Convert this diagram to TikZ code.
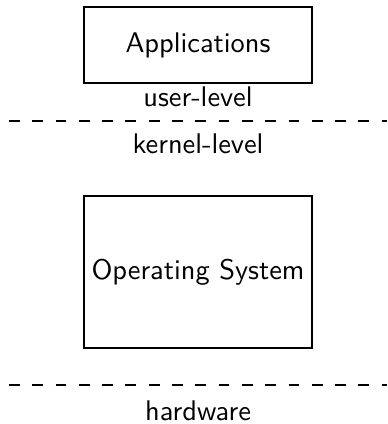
\documentclass[tikz,border=0pt]{standalone}
\begin{document}
\begin{tikzpicture}[x=0.352pt,y=-0.352pt,
  font=\sffamily,
  layerbox/.style={draw, line width=0.8pt, inner sep=0pt, minimum width=80.3pt},
  boundary/.style={line width=0.7pt, dash pattern=on 3.8pt off 4.4pt},
  layertext/.style={anchor=base, inner sep=0pt}]
  \useasboundingbox (0,0) rectangle (387,424);

  % user-level component
  \node[layerbox, minimum height=26.8pt] (apps) at (198,45) {Applications};
  \node[layertext] (user) at (198,106.5) {user-level};

  % user/kernel boundary
  \coordinate (b1l) at (9,121);
  \coordinate (b1r) at (387,121);
  \draw[boundary] (b1l) -- (b1r);

  \node[layertext] (kernel) at (198,154) {kernel-level};

  % kernel component
  \node[layerbox, minimum height=53.5pt] (os) at (198,272) {Operating System};

  % kernel/hardware boundary
  \coordinate (b2l) at (9,385);
  \coordinate (b2r) at (387,385);
  \draw[boundary] (b2l) -- (b2r);

  \node[layertext] (hw) at (198,420) {hardware};
\end{tikzpicture}
\end{document}
